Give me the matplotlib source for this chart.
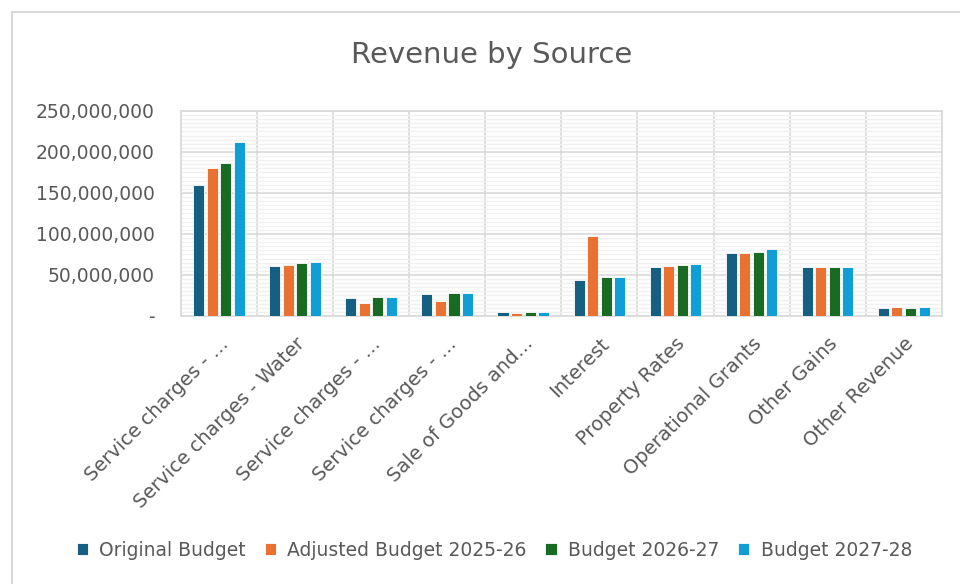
import numpy as np
import matplotlib
matplotlib.use('Agg')
from matplotlib import pyplot as plt
from matplotlib.ticker import MultipleLocator, FuncFormatter
from matplotlib.lines import Line2D

categories = ['Service charges - ...', 'Service charges - Water', 'Service charges - ...',
              'Service charges - ...', 'Sale of Goods and...', 'Interest', 'Property Rates',
              'Operational Grants', 'Other Gains', 'Other Revenue']
series_names = ['Original Budget', 'Adjusted Budget 2025-26', 'Budget 2026-27', 'Budget 2027-28']
original = [160e6, 61e6, 22e6, 26.4e6, 4.4e6, 43.5e6, 59.4e6, 76.4e6, 59.4e6, 9.3e6]
adjusted = [180e6, 62.5e6, 15.4e6, 18.7e6, 3e6, 97e6, 60.5e6, 76.4e6, 59.4e6, 11e6]
budget_2627 = [186e6, 64e6, 23e6, 28e6, 4.4e6, 47e6, 62e6, 78e6, 59.4e6, 9.3e6]
budget_2728 = [212.5e6, 66e6, 23e6, 28e6, 4.4e6, 47e6, 63.7e6, 81.3e6, 59.4e6, 11e6]
colors = ['#156082', '#E97132', '#196B24', '#0F9ED5']

text_col = '#595959'

fig = plt.figure(figsize=(9.6, 5.84), dpi=100)
# chart area frame (only top and left edges visible in the screenshot)
fig.lines.append(Line2D([11.5 / 960, 11.5 / 960], [0, 1 - 12 / 584], transform=fig.transFigure,
                        color='#D9D9D9', linewidth=1.5))
fig.lines.append(Line2D([11.5 / 960, 1], [1 - 12 / 584, 1 - 12 / 584], transform=fig.transFigure,
                        color='#D9D9D9', linewidth=1.5))
ax = fig.add_axes([0.1885, 0.459, 0.7925, 0.351])

x = np.arange(len(categories))
step = 0.178
width = 0.145
for i, (vals, name) in enumerate(zip([original, adjusted, budget_2627, budget_2728], series_names)):
    ax.bar(x + (i - 1.5) * step, vals, width, color=colors[i], label=name,
           edgecolor='white', linewidth=0.6, zorder=3)

ax.set_xlim(-0.5, len(categories) - 0.5)
ax.set_ylim(0, 250e6)
ax.yaxis.set_major_locator(MultipleLocator(50e6))
ax.yaxis.set_minor_locator(MultipleLocator(5e6))
ax.yaxis.set_major_formatter(FuncFormatter(lambda v, p: '-' if v == 0 else f'{v:,.0f}'))
ax.grid(axis='y', which='major', color='#D9D9D9', linewidth=1.2, zorder=1)
ax.grid(axis='y', which='minor', color='#F0F0F0', linewidth=1.0, zorder=0)
for b in np.arange(-0.5, len(categories), 1):
    ax.axvline(b, color='#D9D9D9', linewidth=1.2, zorder=1)
for s in ax.spines.values():
    s.set_color('#D9D9D9')
    s.set_linewidth(1.2)

ax.set_xticks(x)
ax.set_xticklabels(categories, rotation=45, ha='right', rotation_mode='anchor',
                   fontsize=14, color=text_col)
ax.tick_params(axis='both', which='both', length=0, colors=text_col)
ax.tick_params(axis='y', labelsize=13.5, pad=19)
ax.tick_params(axis='x', pad=13)

fig.text(0.5125, 0.905, 'Revenue by Source', ha='center', va='center', fontsize=21, color=text_col)
fig.legend(loc='center', bbox_to_anchor=(0.515, 0.058), ncol=4, frameon=False,
           fontsize=13.5, labelcolor=text_col, handlelength=0.6, handleheight=0.6,
           columnspacing=1.0, handletextpad=0.6)

fig.savefig('out.png', dpi=100)
